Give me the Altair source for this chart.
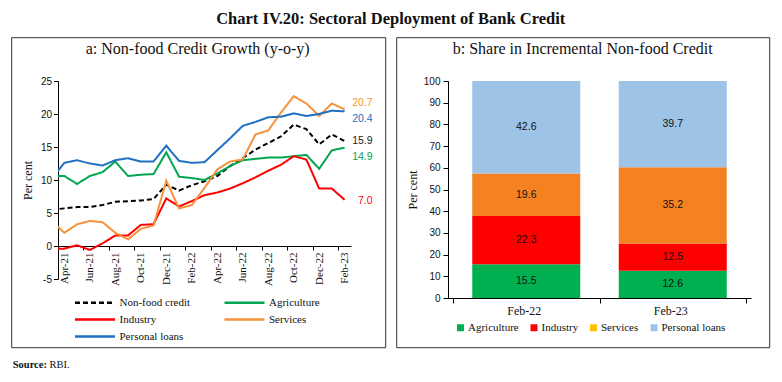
import altair as alt
import pandas as pd

SERIF = "Liberation Serif"
SANS = "Liberation Sans"

# ---------------- Panel a data ----------------
months = ["Mar-21", "Apr-21", "May-21", "Jun-21", "Jul-21", "Aug-21", "Sep-21", "Oct-21",
          "Nov-21", "Dec-21", "Jan-22", "Feb-22", "Mar-22", "Apr-22", "May-22", "Jun-22",
          "Jul-22", "Aug-22", "Sep-22", "Oct-22", "Nov-22", "Dec-22", "Jan-23", "Feb-23"]
non_food = [5.5, 5.7, 5.9, 5.9, 6.2, 6.7, 6.8, 6.9, 7.1, 9.3, 8.4, 9.2, 9.8, 10.6, 12.1, 13.3,
            14.6, 15.6, 16.6, 18.4, 17.7, 15.4, 16.9, 15.9]
agriculture = [10.6, 10.6, 9.4, 10.6, 11.2, 12.8, 10.6, 10.8, 10.9, 14.2, 10.5, 10.3, 10.0, 11.0,
               12.1, 13.0, 13.2, 13.4, 13.4, 13.6, 13.8, 11.7, 14.5, 14.9]
industry = [-0.4, -0.4, 0.1, -0.6, 0.4, 1.6, 1.6, 3.2, 3.3, 7.2, 6.0, 6.8, 7.7, 8.1, 8.7, 9.5,
            10.4, 11.4, 12.3, 13.6, 13.1, 8.7, 8.7, 7.0]
services = [3.8, 2.0, 3.3, 3.8, 3.6, 2.0, 1.0, 2.6, 3.1, 9.9, 5.7, 6.2, 8.8, 11.6, 12.8, 13.1,
            16.9, 17.5, 20.2, 22.7, 21.6, 19.7, 21.6, 20.7]
personal = [10.2, 12.6, 13.0, 12.5, 12.2, 13.0, 13.3, 12.8, 12.8, 15.2, 12.9, 12.6, 12.7, 14.5,
            16.3, 18.2, 18.8, 19.5, 19.6, 20.1, 19.7, 20.0, 20.5, 20.4]

series_names = ["Non-food credit", "Agriculture", "Industry", "Services", "Personal loans"]
series_colors = ["#000000", "#00A650", "#FF0000", "#F7923A", "#1F70C1"]
label_colors = ["#222222", "#00A650", "#FF0000", "#F7923A", "#1F70C1"]
series_values = [non_food, agriculture, industry, services, personal]

# ---------------- Panel b data ----------------
periods = ["Feb-22", "Feb-23"]
sectors = ["Agriculture", "Industry", "Services", "Personal loans"]
agri_share = [15.5, 12.6]
industry_share = [22.3, 12.5]
services_share = [19.6, 35.2]
personal_share = [42.6, 39.7]
bar_colors = ["#00B050", "#FF0000", "#F58220", "#9DC3E6"]
legend_colors = ["#00B050", "#FF0000", "#FFC000", "#9DC3E6"]

# ---------------- tables ----------------
rows = []
for name, vals in zip(series_names, series_values):
    for k, (m, v) in enumerate(zip(months, vals)):
        rows.append({"series": name, "month": m, "idx": k - 1, "value": v})
df_a = pd.DataFrame(rows)

rows_b = []
for r, (sec, vals) in enumerate(zip(sectors, [agri_share, industry_share, services_share, personal_share])):
    for k, p in enumerate(periods):
        rows_b.append({"sector": sec, "period": p, "pos": k, "share": vals[k], "rank": r})
df_b = pd.DataFrame(rows_b)

W_A, H_A = 293, 198
W_B, H_B = 303, 217
ONE = alt.Data(values=[{}])


def txt(text, x, y, size, weight="normal", align="center", font=SERIF, color="#111111"):
    return alt.Chart(ONE).mark_text(
        text=text, align=align, baseline="middle", font=font, fontSize=size,
        fontWeight=weight, color=color
    ).encode(x=alt.value(x), y=alt.value(y))


def box(x1, x2, y1, y2):
    return alt.Chart(ONE).mark_rect(fillOpacity=0, stroke="#333333", strokeWidth=1).encode(
        x=alt.value(x1), x2=alt.value(x2), y=alt.value(y1), y2=alt.value(y2))


# ---------------- Panel a ----------------
tick_vals = [-0.5 + 2 * k for k in range(12)]
month_arr = "[" + ",".join("'%s'" % m for m in months) + "]"
x_axis_a = alt.Axis(values=tick_vals, tickCount=len(tick_vals),
                    labelExpr=month_arr + "[round(datum.value + 1.5)]",
                    labelAngle=270, labelOffset=6.4, offset=-(H_A * 5 / 30), tickSize=4,
                    labelPadding=2, grid=False, title=None, domainColor="black", tickColor="black",
                    labelFont=SERIF, labelFontSize=11, labelColor="#111111", labelFlush=False,
                    labelOverlap=False, labelBound=False)
y_vals_a = [-5, 0, 5, 10, 15, 20, 25]
y_axis_a = alt.Axis(values=y_vals_a, tickCount=len(y_vals_a), labelExpr="'' + datum.value",
                    title="Per cent", titleFont=SERIF, titleFontSize=12, titleFontWeight="normal",
                    titleColor="#111111", titlePadding=6, labelFont=SANS, labelFontSize=10,
                    labelColor="#111111", tickSize=4.5, labelPadding=2, grid=False,
                    labelOverlap=False, domainColor="black", tickColor="black")

leg_a = alt.Legend(title=None, orient="none", legendX=31.5, legendY=216, columns=2,
                   direction="horizontal", symbolType="M-10,0H10", symbolSize=16,
                   symbolStrokeWidth=2.5, labelFont=SERIF, labelFontSize=11,
                   labelColor="#111111", columnPadding=28.5, rowPadding=5, padding=0,
                   labelOffset=19)

x_sc_a = alt.Scale(domain=[-0.5, 22.5], nice=False, zero=False)
y_sc_a = alt.Scale(domain=[-5, 25], nice=False, zero=False)

lines = alt.Chart(df_a).mark_line(strokeWidth=2, clip=True).encode(
    x=alt.X("idx:Q", scale=x_sc_a, axis=x_axis_a),
    y=alt.Y("value:Q", scale=y_sc_a, axis=y_axis_a),
    color=alt.Color("series:N", scale=alt.Scale(domain=series_names, range=series_colors), legend=leg_a),
    strokeDash=alt.StrokeDash("series:N", scale=alt.Scale(domain=series_names,
                              range=[[5, 3], [1, 0], [1, 0], [1, 0], [1, 0]]), legend=leg_a),
)

label_dy = {"Non-food credit": 0, "Agriculture": 9, "Industry": 1.5, "Services": -6, "Personal loans": 8}
end_layers = []
for name, vals, col in zip(series_names, series_values, label_colors):
    d = pd.DataFrame({"idx": [len(vals) - 2], "value": [vals[-1]], "label": ["%.1f" % vals[-1]]})
    end_layers.append(
        alt.Chart(d).mark_text(align="right", baseline="middle", dx=28, dy=label_dy[name],
                               font=SANS, fontSize=10.5, color=col).encode(
            x=alt.X("idx:Q", scale=x_sc_a), y=alt.Y("value:Q", scale=y_sc_a), text="label:N"))

panel_a = alt.layer(
    box(-46.3, 327.7, -43.3, 266.7),
    txt("Chart IV.20: Sectoral Deployment of Bank Credit", 332.7, -62.3, 16.5, weight="bold"),
    txt("a: Non-food Credit Growth (y-o-y)", 139.7, -32.3, 16),
    txt("Source:", -45.3, 283.7, 10.5, weight="bold", align="left"),
    txt("RBI.", -8.5, 283.7, 10.5, align="left"),
    lines,
    *end_layers,
).properties(width=W_A, height=H_A)

# ---------------- Panel b ----------------
x_sc_b = alt.Scale(domain=[-0.5, 1.5], nice=False, zero=False)
y_sc_b = alt.Scale(domain=[0, 100], nice=False, zero=False)
period_arr = "[''," + ",".join("'%s'" % p for p in periods) + "]"
x_axis_b = alt.Axis(values=[-0.5, 0.5, 1.5], tickCount=3,
                    labelExpr=period_arr + "[round(datum.value + 0.5)]",
                    labelOffset=-W_B / 4, labelAngle=0, tickSize=5, labelPadding=2, grid=False,
                    title=None, domainColor="black", tickColor="black", labelFont=SERIF,
                    labelFontSize=12, labelColor="#111111", labelFlush=False, labelOverlap=False,
                    labelBound=False)
y_vals_b = list(range(0, 101, 10))
y_axis_b = alt.Axis(values=y_vals_b, tickCount=len(y_vals_b), title="Per cent", titleFont=SERIF,
                    titleFontSize=12, titleFontWeight="normal", titleColor="#111111",
                    titlePadding=4, labelFont=SANS, labelFontSize=10, labelColor="#111111",
                    tickSize=5, labelPadding=3, grid=False, labelOverlap=False,
                    domainColor="black", tickColor="black")

leg_b = alt.Legend(title=None, orient="none", legendX=7, legendY=241, direction="horizontal",
                   symbolType="square", symbolSize=49, symbolOpacity=1, symbolStrokeWidth=0,
                   labelFont=SERIF, labelFontSize=11, labelColor="#111111", columnPadding=9.5,
                   labelOffset=2, padding=0)

legend_pts = alt.Chart(df_b).mark_point(shape="square", filled=True, opacity=0).encode(
    x=alt.X("pos:Q", scale=x_sc_b, axis=x_axis_b),
    y=alt.Y("share:Q", scale=y_sc_b, axis=y_axis_b),
    color=alt.Color("sector:N", scale=alt.Scale(domain=sectors, range=legend_colors), legend=leg_b),
)

bars = alt.Chart(df_b).mark_bar(size=108).encode(
    x=alt.X("pos:Q", scale=x_sc_b, axis=x_axis_b),
    y=alt.Y("share:Q", stack="zero", scale=y_sc_b, axis=y_axis_b),
    color=alt.Color("sector:N", scale=alt.Scale(domain=sectors, range=bar_colors), legend=None),
    order=alt.Order("rank:Q", sort="ascending"),
)

bar_text = alt.Chart(df_b).transform_stack(
    stack="share", as_=["y0", "y1"], groupby=["pos"],
    sort=[alt.SortField("rank", order="ascending")]
).transform_calculate(mid="(datum.y0 + datum.y1) / 2").mark_text(
    font=SANS, fontSize=10.5, color="#111111", baseline="middle").encode(
    x=alt.X("pos:Q", scale=x_sc_b),
    y=alt.Y("mid:Q", scale=y_sc_b),
    text=alt.Text("share:Q", format=".1f"),
)

panel_b = alt.layer(
    box(-51.3, 321.7, -43.3, 266.7),
    txt("b: Share in Incremental Non-food Credit", 134.7, -32.3, 16),
    legend_pts,
    bars,
    bar_text,
).resolve_scale(color="independent").properties(width=W_B, height=H_B)

chart = alt.hconcat(panel_a, panel_b, spacing=97, bounds="flush").resolve_scale(
    color="independent", strokeDash="independent"
).configure_view(stroke=None).properties(padding={"left": 3, "top": 2, "right": 0, "bottom": 0})

chart.save("out.html", embed_options={"renderer": "svg", "actions": False})
